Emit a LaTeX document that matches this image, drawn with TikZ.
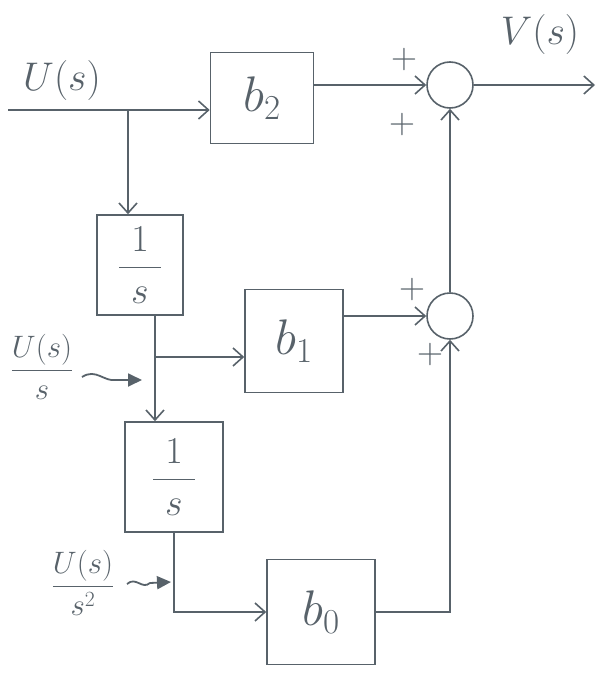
\RequirePackage{fix-cm}
\documentclass[tikz,border=0pt]{standalone}
\usepackage{amsmath}
\usetikzlibrary{arrows.meta}
\definecolor{pencil}{RGB}{88,98,106}
\begin{document}
\begin{tikzpicture}[x=1pt,y=-1pt,
  every node/.style={text=pencil},
  blockbox/.style={draw=pencil, line width=1.6pt, inner sep=0pt, font=\fontsize{50}{58}\selectfont},
  intbox/.style={draw=pencil, line width=1.6pt, inner sep=0pt, font=\fontsize{38}{44}\selectfont},
  sumcirc/.style={circle, draw=pencil, line width=1.6pt, minimum size=46pt, inner sep=0pt},
  plainline/.style={draw=pencil, line width=1.6pt},
  conn/.style={plainline, -{Straight Barb[length=10pt,width=18pt]}},
  squig/.style={draw=pencil, line width=1.8pt, -{Triangle[length=14pt,width=13pt]}},
  biglabel/.style={font=\fontsize{40}{46}\selectfont},
  fraclabel/.style={font=\fontsize{31}{36}\selectfont},
  plussign/.style={font=\fontsize{36}{40}\selectfont}]
\useasboundingbox (0,0) rectangle (605,677);

% blocks
\node[blockbox, minimum width=103pt, minimum height=91pt] (b2) at (262,98) {$b_2$};
\node[blockbox, minimum width=98pt, minimum height=103pt] (b1) at (294,341) {$b_1$};
\node[blockbox, minimum width=108pt, minimum height=105pt] (b0) at (321,612) {$b_0$};
\node[intbox, minimum width=86pt, minimum height=100pt] (i1) at (140,265) {$\dfrac{1}{\hspace{12pt}s\hspace{12pt}}$};
\node[intbox, minimum width=98pt, minimum height=110pt] (i2) at (174,477) {$\dfrac{1}{\hspace{12pt}s\hspace{12pt}}$};
\node[sumcirc] (s1) at (450,85) {};
\node[sumcirc] (s2) at (450,316) {};

% labels
\node[biglabel] (lu) at (62,81) {$U(s)$};
\node[biglabel] (lv) at (540,35) {$V(s)$};
\node[fraclabel] (lus) at (42,367) {$\dfrac{U(s)}{s}$};
\node[fraclabel] (lus2) at (83,583) {$\dfrac{U(s)}{s^2}$};
\node[plussign] (p1) at (404,60) {$+$};
\node[plussign] (p2) at (402,125) {$+$};
\node[plussign] (p3) at (412,289) {$+$};
\node[plussign] (p4) at (430,354) {$+$};

% coordinates
\coordinate (in) at (8,110);
\coordinate (br0) at (128,110);
\coordinate (br1) at (155,357);
\coordinate (out) at (595,85);
\coordinate (q1a) at (82,377);
\coordinate (q1b) at (142,380);
\coordinate (q2a) at (127,584);
\coordinate (q2b) at (171,582);

% connectors
\draw[conn] (in) -- (in -| b2.west);
\draw[conn] (br0) -- (br0 |- i1.north);
\draw[plainline] (br1 |- i1.south) -- (br1);
\draw[conn] (br1) -- (br1 |- i2.north);
\draw[conn] (br1) -- (br1 -| b1.west);
\draw[conn] (i2.south) |- (b0.west);
\draw[conn] (b0.east) -| (s2.south);
\draw[conn] (s2.north) -- (s1.south);
\draw[conn] (s2.west -| b1.east) -- (s2.west);
\draw[conn] (s1.west -| b2.east) -- (s1.west);
\draw[conn] (s1.east) -- (out);

% squiggly pointers
\draw[squig] (q1a) .. controls (96,368) and (104,382) .. (116,380) -- (q1b);
\draw[squig] (q2a) .. controls (136,576) and (142,590) .. (150,583) -- (q2b);
\end{tikzpicture}
\end{document}
